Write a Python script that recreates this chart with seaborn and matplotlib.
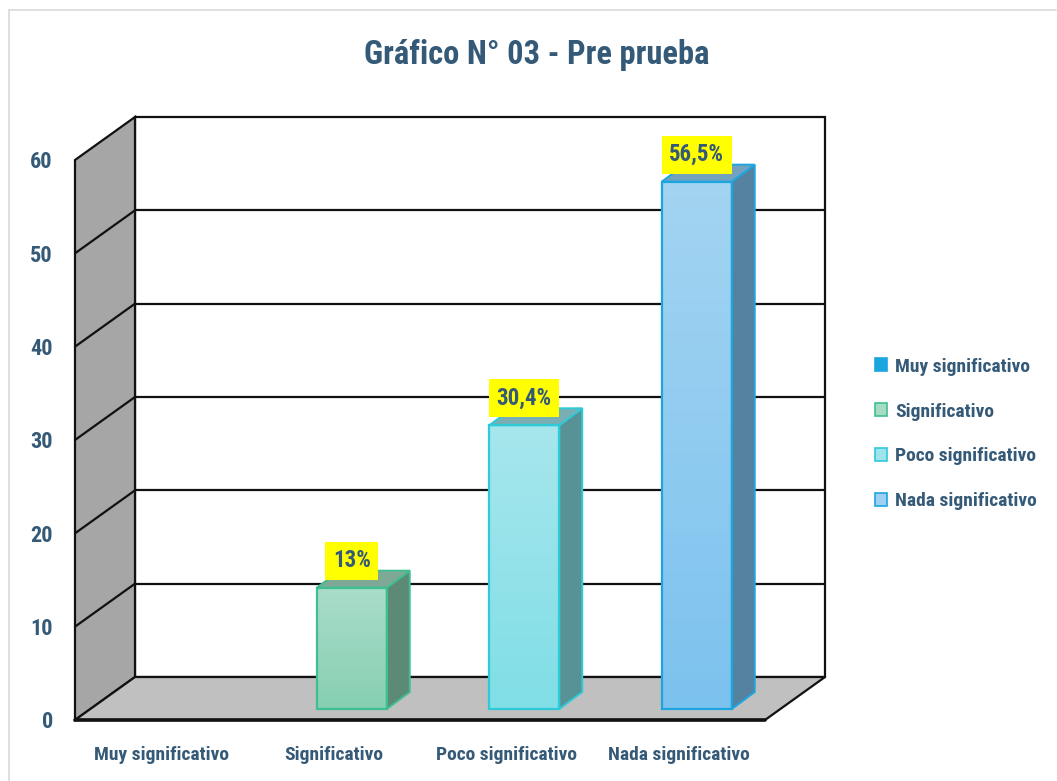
import numpy as np
import pandas as pd
import matplotlib
matplotlib.use("Agg")
import matplotlib.pyplot as plt
import seaborn as sns
from matplotlib.patches import Polygon, Patch
from matplotlib.lines import Line2D
from matplotlib.colors import to_rgb
from matplotlib import font_manager

# ---------------- data ----------------
categories = ["Muy significativo", "Significativo", "Poco significativo", "Nada significativo"]
values = [0, 13, 30.4, 56.5]
value_labels = ["", "13%", "30,4%", "56,5%"]
y_ticks = [0, 10, 20, 30, 40, 50, 60]
title = "Gráfico N° 03 - Pre prueba"

# ---------------- styles ----------------
front_top = ["#2AAEE3", "#AADDCA", "#A7E6ED", "#A3D4F2"]
front_bot = ["#1BA6E0", "#86CFB2", "#80DEE6", "#7CC2EE"]
edge_cols = ["#1BA6E0", "#3FBF90", "#2DCAD8", "#1DA5E0"]
side_cols = ["#1B7FAA", "#5C8A77", "#589297", "#55829E"]
top_cols = ["#1B8FBF", "#7FA897", "#79AEB4", "#74A1BE"]
TXT = "#355A78"

installed = {f.name for f in font_manager.fontManager.ttflist}
condensed = [n for n in ["Roboto Condensed", "Liberation Sans Narrow", "DejaVu Sans Condensed",
                         "Open Sans Condensed", "Noto Sans Condensed"] if n in installed]
if condensed:
    FONT = [condensed[0], "DejaVu Sans"]
    SC = 1.0
else:
    FONT = ["Roboto", "DejaVu Sans"]
    SC = 0.85

sns.set_style("white")
plt.rcParams["font.family"] = FONT
plt.rcParams["font.weight"] = "bold"

W, H = 1057, 781
fig = plt.figure(figsize=(W / 100, H / 100), dpi=100)
fig.patch.set_facecolor("white")

# axes = front plane of the 3D box
AX_L, AX_R, AX_T, AX_B = 75, 765, 160, 720
ax = fig.add_axes([AX_L / W, (H - AX_B) / H, (AX_R - AX_L) / W, (AX_B - AX_T) / H])
XL = (-0.5, 3.5)
YL = (0, 60)

def DX(px):
    return px * (XL[1] - XL[0]) / (AX_R - AX_L)

def DY(px):
    return px * (YL[1] - YL[0]) / (AX_B - AX_T)

df = pd.DataFrame({"cat": categories, "val": values})
bar_w = 70 / 172.5
sns.barplot(data=df, x="cat", y="val", hue="cat", palette=dict(zip(categories, front_bot)),
            width=bar_w, dodge=False, legend=False, saturation=1, ax=ax, zorder=5)

ax.set_xlim(*XL)
ax.set_ylim(*YL)

# ---------------- walls & floor ----------------
wx, wy = DX(60), DY(43)
LC = "#111111"
back = Polygon([(XL[0] + wx, wy), (XL[1] + wx, wy), (XL[1] + wx, 60 + wy), (XL[0] + wx, 60 + wy)],
               closed=True, facecolor="white", edgecolor=LC, lw=1.6, zorder=1, clip_on=False)
ax.add_patch(back)
for t in y_ticks[1:-1]:
    ax.plot([XL[0] + wx, XL[1] + wx], [t + wy, t + wy], color=LC, lw=1.6, zorder=2, clip_on=False)
left = Polygon([(XL[0], 0), (XL[0], 60), (XL[0] + wx, 60 + wy), (XL[0] + wx, wy)],
               closed=True, facecolor="#A6A6A6", edgecolor=LC, lw=1.6, zorder=2, clip_on=False)
ax.add_patch(left)
for t in y_ticks[1:-1]:
    ax.plot([XL[0], XL[0] + wx], [t, t + wy], color=LC, lw=1.6, zorder=3, clip_on=False)
floor = Polygon([(XL[0], 0), (XL[1], 0), (XL[1] + wx, wy), (XL[0] + wx, wy)],
                closed=True, facecolor="#C0C0C0", edgecolor=LC, lw=1.6, zorder=3, clip_on=False)
ax.add_patch(floor)
ax.plot([XL[0], XL[1]], [0, 0], color=LC, lw=2.6, zorder=3.5, clip_on=False)

# ---------------- 3D bars ----------------
bx, by = DX(18), DY(11)
ddx, ddy = DX(23), DY(17)
bars = [c.patches[0] for c in ax.containers]
for i, p in enumerate(bars):
    v = p.get_height()
    if v <= 0:
        p.set_visible(False)
        continue
    x0 = p.get_x() + bx
    x1 = x0 + p.get_width()
    p.set_x(x0)
    p.set_y(by)
    p.set_facecolor("none")
    p.set_edgecolor(edge_cols[i])
    p.set_linewidth(1.6)
    p.set_zorder(7)
    c0, c1 = np.array(to_rgb(front_top[i])), np.array(to_rgb(front_bot[i]))
    grad = np.linspace(0, 1, 100)[:, None, None] * (c1 - c0) + c0
    ax.imshow(grad, extent=[x0, x1, by, v + by], aspect="auto", origin="upper", zorder=6,
              interpolation="bilinear")
    side = Polygon([(x1, by), (x1 + ddx, by + ddy), (x1 + ddx, v + by + ddy), (x1, v + by)],
                   closed=True, facecolor=side_cols[i], edgecolor=edge_cols[i], lw=1.4, zorder=6,
                   clip_on=False)
    ax.add_patch(side)
    topf = Polygon([(x0, v + by), (x1, v + by), (x1 + ddx, v + by + ddy), (x0 + ddx, v + by + ddy)],
                   closed=True, facecolor=top_cols[i], edgecolor=edge_cols[i], lw=1.4, zorder=6,
                   clip_on=False)
    ax.add_patch(topf)
    ax.text((x0 + x1) / 2, v + by + DY(27), value_labels[i], ha="center", va="center",
            fontsize=16.5 * SC, fontweight="bold", color=TXT, zorder=9, family=FONT,
            bbox=dict(boxstyle="square,pad=0.33", facecolor="#FFFF00", edgecolor="none"))

ax.set_xlim(*XL)
ax.set_ylim(*YL)

# ---------------- axes text ----------------
ax.set_yticks(y_ticks)
ax.set_yticklabels([str(t) for t in y_ticks])
ax.set_xticks(range(len(categories)))
ax.set_xticklabels(categories)
ax.tick_params(axis="y", length=0, pad=16, labelsize=16 * SC, labelcolor=TXT)
ax.tick_params(axis="x", length=0, pad=19, labelsize=14 * SC, labelcolor=TXT)
for lab in ax.get_xticklabels() + ax.get_yticklabels():
    lab.set_fontweight("bold")
    lab.set_family(FONT)
ax.set_xlabel("")
ax.set_ylabel("")
for s in ax.spines.values():
    s.set_visible(False)
ax.set_facecolor("none")
ax.grid(False)

fig.text(537 / W, 1 - 55 / H, title, ha="center", va="center", fontsize=23.5 * SC,
         fontweight="bold", color=TXT, family=FONT)

# ---------------- legend ----------------
leg_face = ["#1BA6E0", "#A6DBC6", "#9FE4EC", "#9DD0F2"]
handles = [Patch(facecolor=leg_face[i], edgecolor=edge_cols[i], lw=1.2) for i in range(len(categories))]
leg = fig.legend(handles, categories, loc="center left", bbox_to_anchor=(857 / W, 1 - 434 / H),
                 frameon=False, handlelength=0.65, handleheight=0.65,
                 handletextpad=0.4, labelspacing=1.38 / SC,
                 prop={"family": FONT, "weight": "bold", "size": 14 * SC})
for t in leg.get_texts():
    t.set_color(TXT)

# ---------------- chart border ----------------
fig.add_artist(Line2D([9 / W, 9 / W], [0, 1 - 10 / H], color="#D9D9D9", lw=1.2))
fig.add_artist(Line2D([9 / W, 1056 / W], [1 - 10 / H, 1 - 10 / H], color="#D9D9D9", lw=1.2))

fig.savefig("out.png", dpi=100)
